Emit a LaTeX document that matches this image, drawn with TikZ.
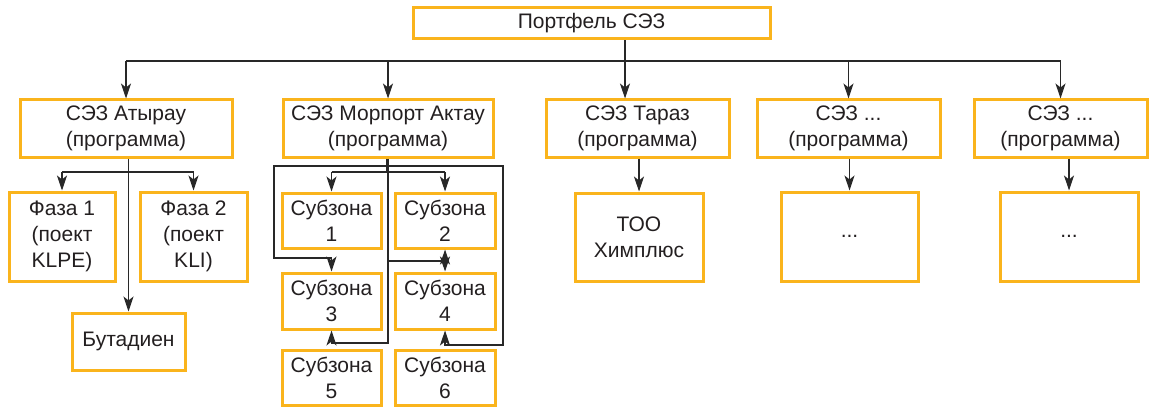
\documentclass[tikz,border=0pt]{standalone}
\usepackage{fontspec}
\setmainfont{Liberation Sans}
\usepackage{tikz}
\usetikzlibrary{arrows.meta}
\definecolor{sezorange}{RGB}{250,180,28}
\definecolor{sezgray}{RGB}{35,31,32}
\definecolor{sezline}{RGB}{40,40,40}
\begin{document}
\begin{tikzpicture}[x=1pt,y=-1pt]
	\tikzstyle{zone}=[draw=sezorange, line width=3pt, align=center, inner sep=0pt, text=sezgray, font=\fontsize{21}{26}\selectfont]
	\tikzstyle{link}=[draw=sezline, line width=1.1pt]
	\tikzstyle{tip}=[-{Stealth[length=15pt,width=10pt,inset=4pt]}]
	\tikzstyle{twotips}=[{Stealth[length=15pt,width=10pt,inset=4pt]}-{Stealth[length=15pt,width=10pt,inset=4pt]}]
	\useasboundingbox (0,0) rectangle (1150,409);
	\node [zone, minimum width=357pt, minimum height=31pt] (port) at (591.5,23.5) {Портфель СЭЗ};
	\node [zone, minimum width=212pt, minimum height=57pt] (aty) at (126,128.5) {СЭЗ Атырау\\(программа)};
	\node [zone, minimum width=210pt, minimum height=57pt] (akt) at (388,128.5) {СЭЗ Морпорт Актау\\(программа)};
	\node [zone, minimum width=183pt, minimum height=57pt] (tar) at (637.5,128.5) {СЭЗ Тараз\\(программа)};
	\node [zone, minimum width=183pt, minimum height=57pt] (sez1) at (848.5,128.5) {СЭЗ ...\\(программа)};
	\node [zone, minimum width=173pt, minimum height=57pt] (sez2) at (1060.5,128.5) {СЭЗ ...\\(программа)};
	\node [zone, minimum width=106pt, minimum height=89pt] (faza1) at (62,236.5) {Фаза 1\\(поект\\KLPE)};
	\node [zone, minimum width=107pt, minimum height=89pt] (faza2) at (193.5,236.5) {Фаза 2\\(поект\\KLI)};
	\node [zone, minimum width=113pt, minimum height=57pt] (but) at (128.5,341.5) {Бутадиен};
	\node [zone, minimum width=99pt, minimum height=55pt] (s1) at (331.5,220.5) {Субзона\\1};
	\node [zone, minimum width=100pt, minimum height=55pt] (s2) at (445,220.5) {Субзона\\2};
	\node [zone, minimum width=99pt, minimum height=56pt] (s3) at (331.5,301) {Субзона\\3};
	\node [zone, minimum width=100pt, minimum height=56pt] (s4) at (445,301) {Субзона\\4};
	\node [zone, minimum width=99pt, minimum height=55pt] (s5) at (331.5,377.5) {Субзона\\5};
	\node [zone, minimum width=100pt, minimum height=55pt] (s6) at (445,377.5) {Субзона\\6};
	\node [zone, minimum width=128pt, minimum height=88pt] (too) at (639,237) {ТОО\\Химплюс};
	\node [zone, minimum width=137pt, minimum height=89pt] (dots1) at (849.5,236.5) {...};
	\node [zone, minimum width=138pt, minimum height=89pt] (dots2) at (1069,236.5) {...};
	\coordinate (bus) at (0,61);
	\coordinate (drop) at (625,61);
	\coordinate (abus) at (0,172);
	\coordinate (sbus) at (0,172);
	\coordinate (tail) at (0,343);
	\coordinate (fork) at (445,261);
	\coordinate (ring w) at (274,258);
	\coordinate (ring nw) at (274,166);
	\coordinate (ring se) at (503,345);
	\draw [link, tip] (port.south -| drop) -- (tar.north -| drop);
	\draw [link] (bus -| aty.north) -- (bus -| sez2.north);
	\foreach \n in {aty,akt,sez1,sez2}
		\draw [link, tip] (bus -| \n.north) -- (\n.north);
	\draw [link, tip] (aty.south -| but.north) -- (but.north);
	\draw [link] (abus -| faza1.north) -- (abus -| faza2.north);
	\draw [link, tip] (abus -| faza1.north) -- (faza1.north);
	\draw [link, tip] (abus -| faza2.north) -- (faza2.north);
	\draw [link] ([xshift=-1.5pt]akt.south) -- ([xshift=-1.5pt]akt.south |- sbus);
	\draw [link] (sbus -| s1.north) -- (sbus -| s2.north);
	\draw [link, tip] (sbus -| s1.north) -- (s1.north);
	\draw [link, tip] (sbus -| s2.north) -- (s2.north);
	\draw [link, tip] (akt.south) -- (akt.south |- tail) -| (s3.south);
	\draw [link] (akt.south |- fork) -- (fork);
	\draw [link, tip] (fork) -- (s2.south);
	\draw [link, tip] (fork) -- (s4.north);
	\draw [link, twotips] (s3.north) |- (ring w) -- (ring nw) -| (ring se) -- (s4.south |- ring se) -- (s4.south);
	\draw [link, tip] (tar.south -| too.north) -- (too.north);
	\draw [link, tip] (sez1.south -| dots1.north) -- (dots1.north);
	\draw [link, tip] (sez2.south -| dots2.north) -- (dots2.north);
\end{tikzpicture}
\end{document}
